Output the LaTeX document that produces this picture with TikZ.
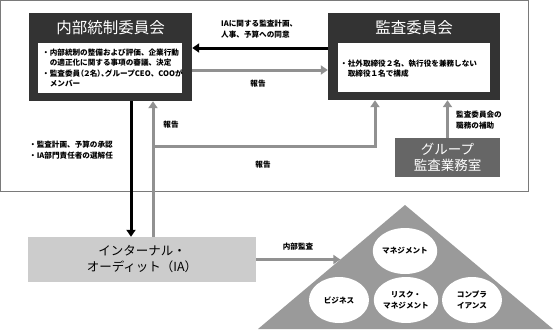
\documentclass[tikz,border=0pt]{standalone}
\usepackage{fontspec}
\setmainfont{Noto Sans CJK JP}
\usetikzlibrary{arrows.meta, calc, shapes.geometric}
\definecolor{dkbox}{HTML}{333333}
\definecolor{arrgray}{HTML}{919191}
\definecolor{grpbox}{HTML}{666666}
\definecolor{iabox}{HTML}{CCCCCC}
\definecolor{trigray}{HTML}{9A9A9A}
\definecolor{framegray}{HTML}{7A7A7A}

\begin{document}
\begin{tikzpicture}[
    x=1pt, y=-1pt,
    >={Triangle[width=9pt,length=7pt]},
    every node/.style={font=\fontsize{7.6}{10.5}\selectfont\bfseries, inner sep=0pt},
    dk/.style={fill=dkbox},
    wb/.style={fill=white},
    ttl/.style={text=white, font=\fontsize{15.5}{18}\selectfont},
    blk/.style={->, line width=3pt, black},
    gy/.style={line width=3pt, arrgray},
    oval/.style={ellipse, fill=white, minimum width=60pt, minimum height=46pt, align=center},
]
    \useasboundingbox (0,0) rectangle (557,332);

    % outer frame
    \draw[framegray, line width=1pt] (0.5,0.5) rectangle (528,191);

    % committees
    \node[dk, minimum width=163pt, minimum height=88pt] (naibu) at (110.5,57) {};
    \node[ttl] (naibuT) at (110.5,28) {内部統制委員会};
    \node[wb, minimum width=144pt, minimum height=50pt] (naibuW) at (110,68) {};
    \node[align=left, anchor=west] (naibuTx) at (42,68)
        {・内部統制の整備および評価、企業行動\\　の適正化に関する事項の審議、決定\\・監査委員{\addfontfeature{RawFeature=+palt}（２名）、}グループCEO、COOが\\　メンバー};

    \node[dk, minimum width=172pt, minimum height=87pt] (kansa) at (414,56.5) {};
    \node[ttl] (kansaT) at (414,28) {監査委員会};
    \node[wb, minimum width=152pt, minimum height=49pt] (kansaW) at (414,67.5) {};
    \node[align=left, anchor=west] (kansaTx) at (340,68.5)
        {・社外取締役２名、執行役を兼務しない\\　取締役１名で構成};

    \node[fill=grpbox, text=white, minimum width=105pt, minimum height=39pt, align=center,
        font=\fontsize{13.5}{16.5}\selectfont] (gyomu) at (447.5,157.5) {グループ\\監査業務室};

    \node[fill=iabox, minimum width=228pt, minimum height=45pt, align=center,
        font=\fontsize{12.5}{16}\selectfont] (ia) at (142,259.5) {インターナル・\\オーディット（IA）};

    % kansa -> naibu
    \draw[blk] ([yshift=8.5pt]kansa.west) -- ([yshift=8.5pt]kansa.west -| naibu.east);
    \node[align=left, anchor=west] (doui) at (221,29) {IAに関する監査計画、\\人事、予算への同意};

    % naibu -> kansa
    \draw[gy, ->] ([yshift=-13pt]naibu.east) -- ([yshift=-13pt]naibu.east -| kansa.west);
    \node (hok1) at (258,84) {報告};

    % naibu -> ia
    \draw[blk] ([xshift=20.5pt]naibu.south) -- ([xshift=20.5pt]naibu.south |- ia.north);
    \node[align=left, anchor=west] (shonin) at (29,150) {・監査計画、予算の承認\\・IA部門責任者の選解任};

    % ia -> naibu
    \draw[gy, ->] ([xshift=11pt]ia.north) -- ([xshift=11pt]ia.north |- naibu.south);
    \node (hok2) at (171,125) {報告};

    % ia -> kansa
    \coordinate (br) at ([xshift=11pt]ia.north |- 0,146);
    \draw[gy, ->] (br) -| ([xshift=-39pt]kansa.south);
    \node (hok3) at (263,165) {報告};

    % gyomu -> kansa
    \draw[gy, ->] (gyomu.north) -- (gyomu.north |- kansa.south);
    \node[align=left, anchor=west] (hojo) at (456,120) {監査委員会の\\職務の補助};

    % audit universe
    \coordinate (apex) at (405,205);
    \coordinate (bl) at (258,329);
    \coordinate (brr) at (553,329);
    \fill[trigray] (apex) -- (bl) -- (brr) -- cycle;
    \coordinate (tri) at ($(apex)!0.44!(bl)$);

    \node[oval] (mgmt) at (405,251) {マネジメント};
    \node[oval] (biz) at (339,300) {ビジネス};
    \node[oval] (risk) at (406,300) {リスク・\\マネジメント};
    \node[oval] (comp) at (472,300) {コンプラ\\イアンス};

    % ia -> triangle
    \draw[gy, ->] (ia.east) -- (ia.east -| tri);
    \node (naibukansa) at (298,247) {内部監査};

\end{tikzpicture}
\end{document}
